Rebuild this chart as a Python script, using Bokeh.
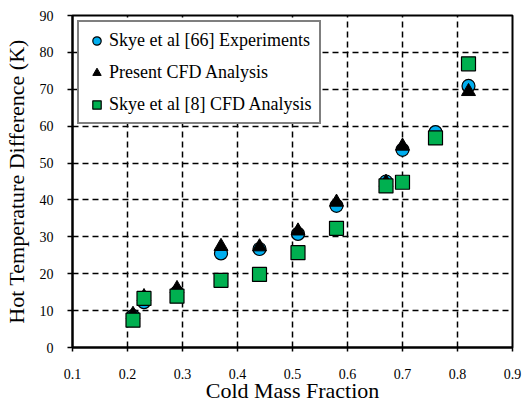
from bokeh.plotting import figure
from bokeh.models import Range1d, FixedTicker, Legend, LegendItem
from bokeh.embed import file_html
from bokeh.resources import INLINE

# Hot temperature difference (K) against cold mass fraction
x_exp = [0.21, 0.23, 0.29, 0.37, 0.44, 0.51, 0.58, 0.67, 0.70, 0.76, 0.82]
y_exp = [8.5, 12.3, 15.0, 25.5, 26.7, 30.8, 38.4, 45.0, 53.6, 58.4, 70.9]

x_cfd = [0.21, 0.23, 0.29, 0.37, 0.44, 0.51, 0.58, 0.67, 0.70, 0.82]
y_cfd = [9.0, 13.8, 16.0, 27.4, 27.3, 31.6, 39.4, 44.8, 54.6, 69.4]

x_sk8 = [0.21, 0.23, 0.29, 0.37, 0.44, 0.51, 0.58, 0.67, 0.70, 0.76, 0.82]
y_sk8 = [7.4, 13.3, 13.9, 18.2, 19.8, 25.7, 32.3, 43.8, 44.8, 56.8, 76.9]

x_ticks = [0.1, 0.2, 0.3, 0.4, 0.5, 0.6, 0.7, 0.8, 0.9]
y_ticks = [0, 10, 20, 30, 40, 50, 60, 70, 80, 90]

FONT = "Liberation Serif"

p = figure(width=526, height=405, output_backend="svg", toolbar_location=None,
           x_range=Range1d(0.1, 0.9), y_range=Range1d(0, 90),
           min_border_left=72, min_border_right=14, min_border_top=15,
           min_border_bottom=58)

p.outline_line_color = "black"
p.outline_line_width = 2
p.outline_line_alpha = 1

for ax in (p.xaxis[0], p.yaxis[0]):
    ax.axis_line_width = 2
    ax.axis_line_color = "black"
    ax.major_tick_line_color = "black"
    ax.major_tick_line_width = 1.5
    ax.major_tick_in = 0
    ax.minor_tick_line_color = None
    ax.major_label_text_font = FONT
    ax.major_label_text_font_size = "14px"
    ax.major_label_text_color = "black"
    ax.axis_label_text_font = FONT
    ax.axis_label_text_font_size = "22px"
    ax.axis_label_text_font_style = "normal"
    ax.axis_label_text_color = "black"

p.xaxis.ticker = FixedTicker(ticks=x_ticks)
p.yaxis.ticker = FixedTicker(ticks=y_ticks)
p.xaxis.major_tick_out = 4
p.yaxis.major_tick_out = 5
p.xaxis.major_label_standoff = 17
p.yaxis.major_label_standoff = 14
p.xaxis.axis_label_standoff = -4
p.yaxis.axis_label_standoff = 8
p.xaxis.axis_label = "Cold Mass Fraction"
p.yaxis.axis_label = "Hot Temperature Difference (K)"

p.xgrid.ticker = FixedTicker(ticks=x_ticks)
p.ygrid.ticker = FixedTicker(ticks=y_ticks)
for g in (p.xgrid[0], p.ygrid[0]):
    g.grid_line_color = "black"
    g.grid_line_width = 1.5
    g.grid_line_dash = "6 4"

r_exp = p.scatter(x_exp, y_exp, marker="circle", size=13,
                  fill_color="#00AEEF", line_color="black", line_width=1.2)
r_cfd = p.scatter(x_cfd, y_cfd, marker="triangle", size=14,
                  fill_color="black", line_color="black", line_width=1)
r_sk8 = p.scatter(x_sk8, y_sk8, marker="square", size=14,
                  fill_color="#00B050", line_color="black", line_width=1.2)

legend = Legend(items=[
    LegendItem(label="Skye et al [66] Experiments", renderers=[r_exp]),
    LegendItem(label="Present CFD Analysis", renderers=[r_cfd]),
    LegendItem(label="Skye et al [8] CFD Analysis", renderers=[r_sk8]),
], location="top_left")
legend.margin = 5
legend.padding = 7
legend.spacing = 10
legend.label_height = 22
legend.glyph_height = 21
legend.glyph_width = 21
legend.label_standoff = 2
legend.label_text_font = FONT
legend.label_text_font_size = "18px"
legend.label_text_color = "black"
legend.border_line_color = "black"
legend.border_line_width = 2
legend.background_fill_color = "white"
legend.background_fill_alpha = 1
p.add_layout(legend, "center")

open("out.html", "w").write(file_html(p, INLINE))
